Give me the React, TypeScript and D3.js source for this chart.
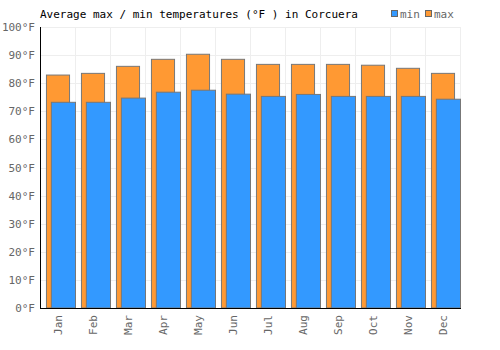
import * as d3 from 'd3';
import React, { useEffect, useRef } from 'react';

const months = ['Jan', 'Feb', 'Mar', 'Apr', 'May', 'Jun', 'Jul', 'Aug', 'Sep', 'Oct', 'Nov', 'Dec'];
const maxTemps = [82.9, 83.5, 86.0, 88.5, 90.3, 88.5, 86.7, 86.7, 86.7, 86.4, 85.3, 83.5];
const minTemps = [73.2, 73.2, 74.7, 76.8, 77.5, 76.1, 75.3, 76.0, 75.3, 75.3, 75.3, 74.3];
const yTicks = [0, 10, 20, 30, 40, 50, 60, 70, 80, 90, 100];

const W = 500;
const H = 350;
const margin = { top: 27, right: 40, bottom: 42, left: 40 };
const font = '"DejaVu Sans Mono", monospace';
const orange = '#ff9933';
const blue = '#3399ff';

const App = () => {
    const ref = useRef<SVGSVGElement>(null);

    useEffect(() => {
        const svg = d3.select(ref.current);
        svg.selectAll('*').remove();

        const width = W - margin.left - margin.right;
        const height = H - margin.top - margin.bottom;

        const x = d3.scaleBand().domain(months).range([0, width]);
        const y = d3.scaleLinear().domain([0, 100]).range([height, 0]);

        const g = svg.append('g')
            .attr('transform', 'translate(' + margin.left + ',' + margin.top + ')');

        // grid
        g.selectAll('.hgrid')
            .data(yTicks)
            .enter().append('line')
            .attr('x1', 0).attr('x2', width)
            .attr('y1', (d) => Math.round(y(d)) + 0.5)
            .attr('y2', (d) => Math.round(y(d)) + 0.5)
            .attr('stroke', '#eeeeee');
        g.selectAll('.vgrid')
            .data(months)
            .enter().append('line')
            .attr('x1', (d) => x(d)! + x.bandwidth() + 0.5)
            .attr('x2', (d) => x(d)! + x.bandwidth() + 0.5)
            .attr('y1', 0).attr('y2', height)
            .attr('stroke', '#eeeeee');

        const bw = x.bandwidth();

        // max bars (behind)
        g.selectAll('.maxbar')
            .data(months)
            .enter().append('rect')
            .attr('x', (d) => x(d)! + bw * 0.17 + 0.5)
            .attr('width', bw * 0.66)
            .attr('y', (d, i) => y(maxTemps[i]))
            .attr('height', (d, i) => height - y(maxTemps[i]))
            .attr('fill', orange)
            .attr('stroke', '#777777')
            .attr('stroke-width', 1);

        // min bars (front)
        g.selectAll('.minbar')
            .data(months)
            .enter().append('rect')
            .attr('x', (d) => x(d)! + bw * 0.31 + 0.5)
            .attr('width', bw * 0.69)
            .attr('y', (d, i) => y(minTemps[i]))
            .attr('height', (d, i) => height - y(minTemps[i]))
            .attr('fill', blue)
            .attr('stroke', '#777777')
            .attr('stroke-width', 1);

        // axes lines
        g.append('line')
            .attr('x1', 0.5).attr('x2', 0.5).attr('y1', 0).attr('y2', height)
            .attr('stroke', '#000');
        g.append('line')
            .attr('x1', 0).attr('x2', width + 1).attr('y1', height + 0.5).attr('y2', height + 0.5)
            .attr('stroke', '#000');

        // y tick labels
        g.selectAll('.ylab')
            .data(yTicks)
            .enter().append('text')
            .attr('x', -5)
            .attr('y', (d) => y(d) + 4)
            .attr('text-anchor', 'end')
            .attr('font-family', font)
            .attr('font-size', 11)
            .attr('fill', '#666')
            .text((d) => d + '°F');

        // x tick labels
        g.selectAll('.xlab')
            .data(months)
            .enter().append('text')
            .attr('transform', (d) => 'translate(' + (x(d)! + bw / 2 + 4) + ',' + (height + 7) + ') rotate(-90)')
            .attr('text-anchor', 'end')
            .attr('font-family', font)
            .attr('font-size', 11)
            .attr('fill', '#666')
            .text((d) => d);

        // title
        svg.append('text')
            .attr('x', margin.left)
            .attr('y', 18)
            .attr('font-family', font)
            .attr('font-size', 11)
            .attr('fill', '#000')
            .text('Average max / min temperatures (°F ) in Corcuera');

        // legend
        const legend = [{ label: 'min', color: blue, x: 391 }, { label: 'max', color: orange, x: 425 }];
        const lg = svg.selectAll('.legend')
            .data(legend)
            .enter().append('g')
            .attr('transform', (d) => 'translate(' + d.x + ',10)');
        lg.append('rect')
            .attr('x', 0.5).attr('y', 0.5)
            .attr('width', 6).attr('height', 6)
            .attr('fill', (d) => d.color)
            .attr('stroke', '#666');
        lg.append('text')
            .attr('x', 9).attr('y', 8)
            .attr('font-family', font)
            .attr('font-size', 11)
            .attr('fill', '#666')
            .text((d) => d.label);
    }, []);

    return (
        <svg ref={ref} width={W} height={H} style={{ position: 'absolute', left: 0, top: 0, background: '#fff' }}></svg>
    );
};

export default App;
